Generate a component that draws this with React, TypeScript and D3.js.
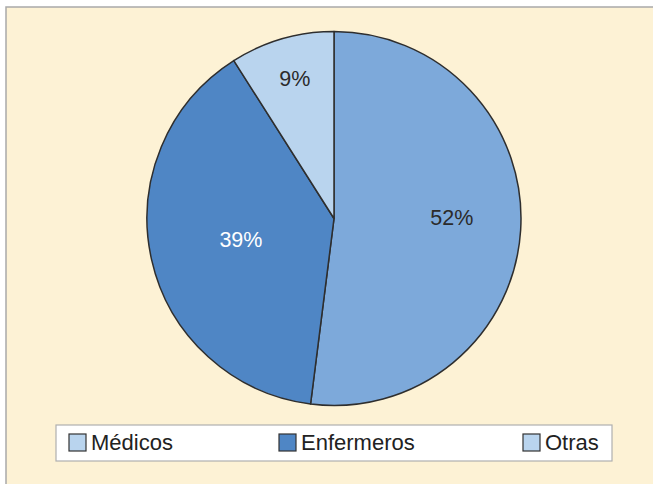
import React, { useEffect, useRef } from 'react';
import * as d3 from 'd3';

const categories = ['Médicos', 'Enfermeros', 'Otras'];
const sliceValues = [52, 39, 9];
const sliceLabels = ['52%', '39%', '9%'];
const sliceColors = ['#7da9da', '#4f86c5', '#b9d4ee'];
const legendColors = ['#b9d4ee', '#4f86c5', '#b9d4ee'];
const labelColors = ['#2b2b2b', '#ffffff', '#2b2b2b'];
// label distance from center (fraction of radius) and small angle nudge (radians)
const labelRadius = [0.63, 0.51, 0.78];
const labelNudge = [-0.07, 0, 0.01];

const W = 653;
const H = 484;

export default function App() {
  const svgRef = useRef<SVGSVGElement>(null);

  useEffect(() => {
    if (!svgRef.current) return;
    const svg = d3.select(svgRef.current);
    svg.selectAll('*').remove();

    // frame
    svg.append('rect').attr('width', W).attr('height', H).attr('fill', '#ffffff');
    svg.append('rect')
      .attr('x', 6).attr('y', 7)
      .attr('width', W + 10).attr('height', H + 10)
      .attr('fill', '#fdf2d5')
      .attr('stroke', '#a9a9a9')
      .attr('stroke-width', 1.5);

    const cx = 334;
    const cy = 218.5;
    const R = 187;

    const pie = d3.pie<number>().sort(null).value(d => d);
    const arcs = pie(sliceValues);
    const arc = d3.arc<d3.PieArcDatum<number>>().innerRadius(0).outerRadius(R);

    const g = svg.append('g').attr('transform', `translate(${cx},${cy})`);
    g.selectAll('path.slice')
      .data(arcs)
      .enter()
      .append('path')
      .attr('class', 'slice')
      .attr('d', arc)
      .attr('fill', (_, i) => sliceColors[i])
      .attr('stroke', '#2e2e2e')
      .attr('stroke-width', 1.5)
      .attr('stroke-linejoin', 'round');

    g.selectAll('text.lbl')
      .data(arcs)
      .enter()
      .append('text')
      .attr('class', 'lbl')
      .attr('transform', (d, i) => {
        const r = R * labelRadius[i];
        const a = (d.startAngle + d.endAngle) / 2 + labelNudge[i];
        return `translate(${r * Math.sin(a)},${-r * Math.cos(a)})`;
      })
      .attr('text-anchor', 'middle')
      .attr('dy', '0.36em')
      .attr('font-family', '"Liberation Sans", Arial, sans-serif')
      .attr('font-size', 21.5)
      .attr('fill', (_, i) => labelColors[i])
      .text((_, i) => sliceLabels[i]);

    // legend
    svg.append('rect')
      .attr('x', 56).attr('y', 425)
      .attr('width', 556).attr('height', 36)
      .attr('fill', '#ffffff')
      .attr('stroke', '#b0b0b0')
      .attr('stroke-width', 1.2);

    const legendX = [69, 279, 523];
    const lg = svg.append('g');
    categories.forEach((c, i) => {
      lg.append('rect')
        .attr('x', legendX[i]).attr('y', 434)
        .attr('width', 17).attr('height', 17)
        .attr('fill', legendColors[i])
        .attr('stroke', '#333333')
        .attr('stroke-width', 1.2);
      lg.append('text')
        .attr('x', legendX[i] + 22).attr('y', 450)
        .attr('font-family', '"Liberation Sans", Arial, sans-serif')
        .attr('font-size', 22)
        .attr('fill', '#222222')
        .text(c);
    });
  }, []);

  return (
    <svg
      ref={svgRef}
      width={W}
      height={H}
      style={{ position: 'absolute', left: 0, top: 0, display: 'block' }}
    />
  );
}
